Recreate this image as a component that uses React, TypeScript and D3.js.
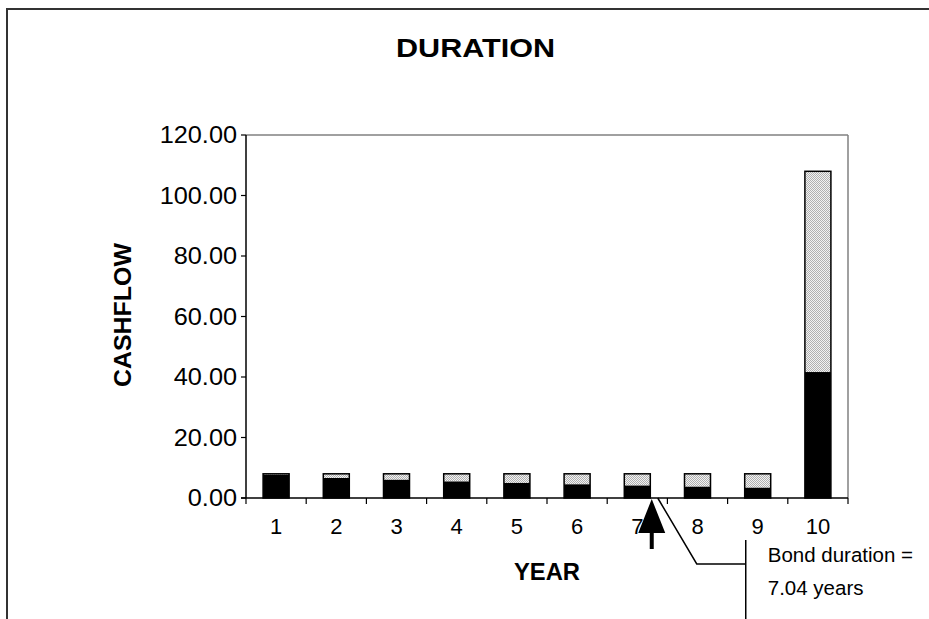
import React from "react";
import * as d3 from "d3";

const years = ["1", "2", "3", "4", "5", "6", "7", "8", "9", "10"];
const cashflow = [8, 8, 8, 8, 8, 8, 8, 8, 8, 108];
const presentValue = [7.7, 6.61, 6.01, 5.46, 4.97, 4.52, 4.11, 3.73, 3.39, 41.64];
const yTicks = [0, 20, 40, 60, 80, 100, 120];
const title = "DURATION";
const xTitle = "YEAR";
const yTitle = "CASHFLOW";
const noteLines = ["Bond duration =", "7.04 years"];
const arrowYear = 7.24;

const W = 929;
const H = 619;
const M = { left: 246, right: 848, top: 135, bottom: 498 };

export default function App() {
  const x = d3
    .scaleBand<string>()
    .domain(years)
    .range([M.left, M.right])
    .paddingInner(0.568)
    .paddingOuter(0.284);
  const y = d3.scaleLinear().domain([0, 120]).range([M.bottom, M.top]);
  const step = x.step();
  const bw = x.bandwidth();
  const boundaries = d3.range(years.length + 1).map((k) => M.left + k * step);
  const yearX = d3
    .scaleLinear()
    .domain([0.5, years.length + 0.5])
    .range([M.left, M.right]);

  const ax = yearX(arrowYear);
  const ay = y(0) + 1;
  const font = "Arial, 'Liberation Sans', sans-serif";

  return (
    <svg
      width={W}
      height={H}
      style={{ position: "absolute", left: 0, top: 0, background: "#fff" }}
      fontFamily={font}
    >
      <defs>
        <pattern id="dots" width="2" height="2" patternUnits="userSpaceOnUse">
          <rect width="2" height="2" fill="#f2f2f2" />
          <rect x="0" y="0" width="1" height="1" fill="#b0b0b0" />
          <rect x="1" y="1" width="1" height="1" fill="#b0b0b0" />
        </pattern>
      </defs>
      {/* outer frame */}
      <rect x={7} y={9} width={W + 20} height={H + 20} fill="none" stroke="#333" strokeWidth={2} />

      <text
        x={475.5}
        y={57}
        textAnchor="middle"
        fontSize={25.5}
        fontWeight="bold"
        textLength={159}
        lengthAdjust="spacingAndGlyphs"
      >
        {title}
      </text>

      {/* plot frame top/right */}
      <line x1={M.left} x2={M.right} y1={M.top} y2={M.top} stroke="#808080" strokeWidth={1.5} />
      <line x1={M.right} x2={M.right} y1={M.top} y2={M.bottom} stroke="#808080" strokeWidth={1.5} />

      {/* bars */}
      {years.map((yr, i) => {
        const x0 = x(yr)!;
        return (
          <g key={yr}>
            <rect
              x={x0}
              y={y(cashflow[i])}
              width={bw}
              height={y(presentValue[i]) - y(cashflow[i])}
              fill="url(#dots)"
            />
            <rect
              x={x0}
              y={y(presentValue[i])}
              width={bw}
              height={y(0) - y(presentValue[i])}
              fill="#000"
            />
            <rect
              x={x0}
              y={y(cashflow[i])}
              width={bw}
              height={y(0) - y(cashflow[i])}
              fill="none"
              stroke="#000"
              strokeWidth={1.5}
            />
          </g>
        );
      })}

      {/* y axis */}
      <line x1={M.left} x2={M.left} y1={M.top} y2={M.bottom} stroke="#000" strokeWidth={1.5} />
      {yTicks.map((t) => (
        <g key={t}>
          <line x1={M.left - 5} x2={M.left} y1={y(t)} y2={y(t)} stroke="#000" strokeWidth={1.2} />
          <text
            transform={`translate(${M.left - 9},${y(t) + 8.3}) scale(1.1,1)`}
            textAnchor="end"
            fontSize={23}
          >
            {t.toFixed(2)}
          </text>
        </g>
      ))}

      {/* x axis */}
      <line x1={M.left - 5} x2={M.right} y1={M.bottom} y2={M.bottom} stroke="#000" strokeWidth={1.5} />
      {boundaries.map((b, k) => (
        <line key={k} x1={b} x2={b} y1={M.bottom} y2={M.bottom + 6} stroke="#000" strokeWidth={1.2} />
      ))}
      {years.map((yr) => (
        <text key={yr} x={x(yr)! + bw / 2} y={534} textAnchor="middle" fontSize={22}>
          {yr}
        </text>
      ))}

      <text x={547} y={580} textAnchor="middle" fontSize={23} fontWeight="bold" textLength={66} lengthAdjust="spacingAndGlyphs">
        {xTitle}
      </text>
      <text
        transform={`translate(131,315) rotate(-90)`}
        textAnchor="middle"
        fontSize={24}
        fontWeight="bold"
        textLength={144}
        lengthAdjust="spacingAndGlyphs"
      >
        {yTitle}
      </text>

      {/* arrow */}
      <path
        d={`M${ax},${ay} L${ax + 13.5},${ay + 34} L${ax + 2},${ay + 34} L${ax + 2},${ay + 50} L${ax - 2},${ay + 50} L${ax - 2},${ay + 34} L${ax - 13.5},${ay + 34} Z`}
        fill="#000"
      />

      {/* callout */}
      <polyline
        points={`${ax + 6},${ay - 1} ${ax + 45},${ay + 65} ${ax + 94},${ay + 65}`}
        fill="none"
        stroke="#000"
        strokeWidth={1.5}
      />
      <line x1={ax + 94} x2={ax + 94} y1={ay + 41} y2={H} stroke="#000" strokeWidth={1.5} />
      {noteLines.map((l, i) => (
        <text key={i} x={ax + 116} y={562 + i * 33} fontSize={20.5}>
          {l}
        </text>
      ))}
    </svg>
  );
}
